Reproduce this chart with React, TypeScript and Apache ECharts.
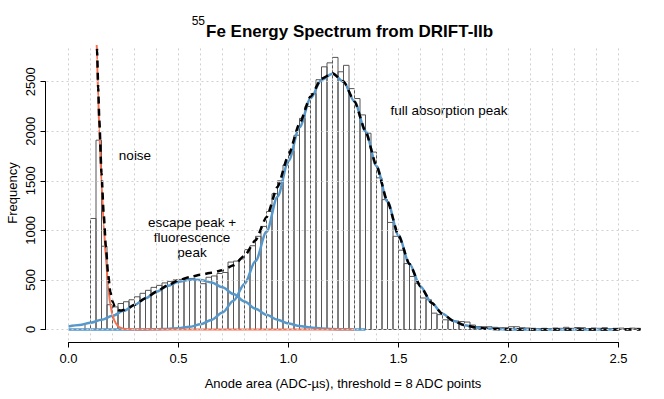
import React, { useEffect, useRef } from "react";
import * as echarts from "echarts";

const FONT = '"Liberation Sans", Arial, Helvetica, sans-serif';

// Histogram: bins of width 0.025 starting at 0.075
const BIN_START = 0.075;
const BIN_WIDTH = 0.025;
const histCounts = [
  60, 1120, 1910, 840, 250, 228, 262, 280, 300, 330,
  365, 395, 425, 445, 470, 485, 500, 505, 513, 515,
  495, 462, 527, 540, 565, 575, 680, 690, 712, 805,
  845, 940, 1040, 1190, 1370, 1500, 1660, 1800, 1960, 2130,
  2250, 2380, 2520, 2650, 2690, 2745, 2600, 2665, 2430, 2330,
  2165, 1980, 1790, 1530, 1310, 1080, 940, 800, 665, 535,
  465, 318, 300, 165, 150, 98, 95, 85, 80, 75,
  45, 30, 28, 28, 22, 18, 18, 28, 28, 18,
  15, 12, 10, 12, 10, 15, 12, 22, 12, 20,
  18, 10, 15, 12, 18, 10, 12, 14, 10, 14,
  12,
];

// Full absorption peak fit (blue)
const fullX = [
  0, 0.05, 0.1, 0.15, 0.2, 0.25, 0.3, 0.35, 0.4, 0.45,
  0.5, 0.55, 0.6, 0.65, 0.7, 0.75, 0.8, 0.85, 0.9, 0.95,
  1.0, 1.05, 1.1, 1.15, 1.2, 1.25, 1.3, 1.35, 1.4, 1.45,
  1.5, 1.55, 1.6, 1.65, 1.7, 1.75, 1.8, 1.85, 1.9, 1.95,
  2.0, 2.05, 2.1, 2.15, 2.2, 2.25, 2.3, 2.35, 2.4, 2.45,
  2.5,
];
const fullY = [
  0, 0, 0, 0, 0, 0, 0, 1, 2, 6,
  13, 27, 52, 97, 172, 290, 460, 690, 985, 1340,
  1700, 2040, 2330, 2520, 2580, 2500, 2300, 2000, 1650, 1290,
  950, 660, 435, 270, 158, 86, 44, 21, 9, 4,
  1, 0, 0, 0, 0, 0, 0, 0, 0, 0,
  0,
];

// Escape + fluorescence peak fit (blue)
const escapeX = [
  0, 0.05, 0.1, 0.15, 0.2, 0.25, 0.3, 0.35, 0.4, 0.45,
  0.5, 0.55, 0.6, 0.65, 0.7, 0.75, 0.8, 0.85, 0.9, 0.95,
  1.0, 1.05, 1.1, 1.15, 1.2, 1.25, 1.3, 1.35,
];
const escapeY = [
  30, 45, 68, 98, 138, 188, 248, 315, 380, 440,
  482, 502, 500, 475, 425, 358, 283, 210, 148, 98,
  61, 36, 20, 10, 5, 2, 1, 0,
];

// Noise fit (red)
const noiseX = [
  0.12, 0.125, 0.13, 0.135, 0.14, 0.15, 0.16, 0.17, 0.18, 0.19,
  0.2, 0.21, 0.22, 0.23, 0.24, 0.25, 0.27, 0.3, 0.35, 0.4,
  0.5, 0.6, 0.8, 1.0, 1.3,
];
const noiseY = [
  3600, 3150, 2720, 2350, 2020, 1480, 1060, 720, 440, 250,
  145, 82, 46, 25, 14, 8, 3, 1, 0, 0,
  0, 0, 0, 0, 0,
];

// Total fit (black dashed)
const totalX = [
  0.12, 0.125, 0.13, 0.135, 0.14, 0.15, 0.16, 0.17, 0.18, 0.19,
  0.2, 0.21, 0.22, 0.23, 0.24, 0.25, 0.27, 0.3, 0.35, 0.4,
  0.45, 0.5, 0.55, 0.6, 0.65, 0.7, 0.75, 0.8, 0.85, 0.9,
  0.95, 1.0, 1.05, 1.1, 1.15, 1.2, 1.25, 1.3, 1.35, 1.4,
  1.45, 1.5, 1.55, 1.6, 1.65, 1.7, 1.75, 1.8, 1.85, 1.9,
  1.95, 2.0, 2.05, 2.1, 2.15, 2.2, 2.25, 2.3, 2.35, 2.4,
  2.45, 2.5, 2.55, 2.6,
];
const totalY = [
  3680, 3233, 2806, 2439, 2112, 1578, 1165, 833, 561, 380,
  283, 230, 204, 193, 192, 196, 215, 249, 315, 382,
  445, 495, 529, 552, 572, 597, 648, 743, 900, 1133,
  1438, 1761, 2076, 2350, 2530, 2585, 2502, 2301, 2000, 1650,
  1290, 950, 660, 435, 270, 158, 86, 44, 21, 9,
  4, 1, 0, 0, 0, 0, 0, 0, 0, 0,
  0, 0, 0, 0,
];

// Axes / grid
const xTickLabels = ["0.0", "0.5", "1.0", "1.5", "2.0", "2.5"];
const yTickLabels = ["0", "500", "1000", "1500", "2000", "2500"];
const xGridLines = [
  0, 0.1, 0.2, 0.3, 0.4, 0.5, 0.6, 0.7, 0.8, 0.9, 1.0, 1.1, 1.2,
  1.3, 1.4, 1.5, 1.6, 1.7, 1.8, 1.9, 2.0, 2.1, 2.2, 2.3, 2.4, 2.5,
];
const yGridLines = [0, 500, 1000, 1500, 2000, 2500];

const BLUE = "#5698CB";
const RED = "#F8704F";

function pairs(xs: number[], ys: number[]) {
  return xs.map((x, i) => [x, ys[i]]);
}

export default function App() {
  const ref = useRef<HTMLDivElement>(null);
  useEffect(() => {
    const chart = echarts.init(ref.current!, null, { renderer: "svg" });
    const histData = histCounts.map((v, i) => [BIN_START + i * BIN_WIDTH, v]);
    const ann = `13.5px ${FONT}`;
    const option: any = {
      animation: false,
      backgroundColor: "#ffffff",
      grid: [
        { left: 46.5, top: 46, width: 594, height: 294.4 },
        { left: 68.5, top: 300, width: 550, height: 42.5 },
        { left: 45.5, top: 81.7, width: 100, height: 247.8 },
      ],
      xAxis: [
        { gridIndex: 0, type: "value", min: -0.1, max: 2.6, show: false },
        {
          gridIndex: 1,
          type: "value",
          min: 0,
          max: 2.5,
          interval: 0.5,
          axisLine: { show: true, lineStyle: { color: "#000", width: 1 } },
          axisTick: { show: true, length: 5, lineStyle: { color: "#000", width: 1 } },
          axisLabel: {
            margin: 9,
            fontSize: 13,
            color: "#000",
            fontFamily: FONT,
            formatter: (v: number) => xTickLabels[Math.round(v / 0.5)] ?? "",
          },
          splitLine: { show: false },
        },
        { gridIndex: 2, type: "value", show: false },
      ],
      yAxis: [
        { gridIndex: 0, type: "value", min: -110, max: 2860, show: false },
        { gridIndex: 1, type: "value", show: false },
        {
          gridIndex: 2,
          type: "value",
          position: "left",
          min: 0,
          max: 2500,
          interval: 500,
          axisLine: { show: true, lineStyle: { color: "#000", width: 1 } },
          axisTick: { show: true, length: 5, lineStyle: { color: "#000", width: 1 } },
          axisLabel: {
            rotate: 90,
            margin: 9,
            fontSize: 13,
            color: "#000",
            fontFamily: FONT,
            formatter: (v: number) => yTickLabels[Math.round(v / 500)] ?? "",
          },
          splitLine: { show: false },
        },
      ],
      series: [
        {
          type: "line",
          xAxisIndex: 0,
          yAxisIndex: 0,
          data: [[-0.1, -110]],
          showSymbol: false,
          lineStyle: { width: 0 },
          silent: true,
          z: 0,
          markLine: {
            silent: true,
            symbol: ["none", "none"],
            label: { show: false },
            lineStyle: { type: [2, 3], color: "#d0d0d0", width: 1 },
            data: [
              ...xGridLines.map((v) => ({ xAxis: v })),
              ...yGridLines.map((v) => ({ yAxis: v })),
            ],
          },
        },
        {
          type: "custom",
          xAxisIndex: 0,
          yAxisIndex: 0,
          z: 2,
          data: histData,
          renderItem: (params: any, api: any) => {
            const x0 = api.value(0);
            const v = api.value(1);
            const p0 = api.coord([x0, 0]);
            const p1 = api.coord([x0 + BIN_WIDTH, v]);
            return {
              type: "rect",
              shape: {
                x: p0[0],
                y: p1[1],
                width: p1[0] - p0[0],
                height: p0[1] - p1[1],
              },
              style: { fill: "none", stroke: "#555", lineWidth: 1 },
            };
          },
        },
        {
          type: "line",
          xAxisIndex: 0,
          yAxisIndex: 0,
          z: 3,
          data: pairs(fullX, fullY),
          showSymbol: false,
          smooth: 0.3,
          smoothMonotone: "x",
          lineStyle: { color: BLUE, width: 2.5 },
        },
        {
          type: "line",
          xAxisIndex: 0,
          yAxisIndex: 0,
          z: 3,
          data: pairs(escapeX, escapeY),
          showSymbol: false,
          smooth: 0.3,
          smoothMonotone: "x",
          lineStyle: { color: BLUE, width: 2.5 },
        },
        {
          type: "line",
          xAxisIndex: 0,
          yAxisIndex: 0,
          z: 3,
          data: pairs(noiseX, noiseY),
          showSymbol: false,
          smooth: 0.2,
          smoothMonotone: "x",
          lineStyle: { color: RED, width: 2 },
        },
        {
          type: "line",
          xAxisIndex: 0,
          yAxisIndex: 0,
          z: 4,
          data: pairs(totalX, totalY),
          showSymbol: false,
          smooth: 0.2,
          smoothMonotone: "x",
          lineStyle: { color: "#000", width: 2.5, type: [7, 5] },
        },
      ],
      graphic: [
        {
          type: "text",
          x: 205,
          y: 21,
          style: { text: "55", fill: "#000", font: `12px ${FONT}`, align: "right", verticalAlign: "middle" },
        },
        {
          type: "text",
          x: 206,
          y: 31,
          style: {
            text: "Fe Energy Spectrum from DRIFT-IIb",
            fill: "#000",
            font: `bold 17px ${FONT}`,
            align: "left",
            verticalAlign: "middle",
          },
        },
        {
          type: "text",
          x: 343,
          y: 383,
          style: {
            text: "Anode area (ADC-µs), threshold = 8 ADC points",
            fill: "#000",
            font: `13px ${FONT}`,
            align: "center",
            verticalAlign: "middle",
          },
        },
        {
          type: "text",
          x: 12,
          y: 193,
          rotation: Math.PI / 2,
          style: { text: "Frequency", fill: "#000", font: `13px ${FONT}`, align: "center", verticalAlign: "middle" },
        },
        {
          type: "text",
          x: 135,
          y: 155,
          style: { text: "noise", fill: "#000", font: ann, align: "center", verticalAlign: "middle" },
        },
        {
          type: "text",
          x: 192,
          y: 222,
          style: { text: "escape peak +", fill: "#000", font: ann, align: "center", verticalAlign: "middle" },
        },
        {
          type: "text",
          x: 192,
          y: 237,
          style: { text: "fluorescence", fill: "#000", font: ann, align: "center", verticalAlign: "middle" },
        },
        {
          type: "text",
          x: 192,
          y: 252,
          style: { text: "peak", fill: "#000", font: ann, align: "center", verticalAlign: "middle" },
        },
        {
          type: "text",
          x: 449,
          y: 110,
          style: {
            text: "full absorption peak",
            fill: "#000",
            font: ann,
            align: "center",
            verticalAlign: "middle",
          },
        },
      ],
    };
    chart.setOption(option);
    return () => chart.dispose();
  }, []);
  return (
    <div
      ref={ref}
      style={{ position: "fixed", left: 0, top: 0, width: 664, height: 399 }}
    />
  );
}
